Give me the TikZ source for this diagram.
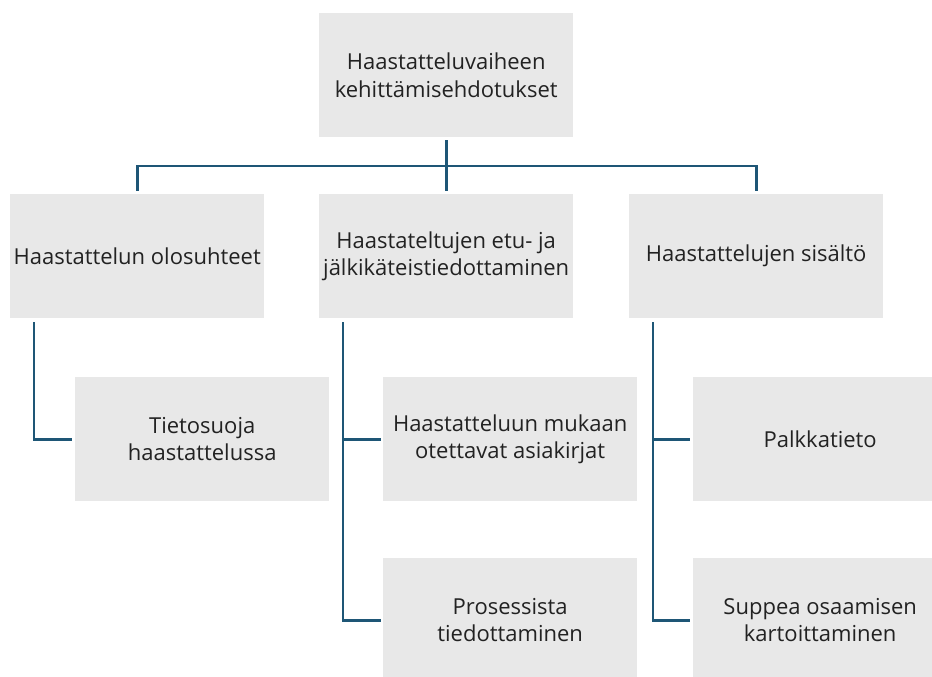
\documentclass[tikz,border=0pt]{standalone}
\usepackage{fontspec}
\setmainfont{Open Sans}
\definecolor{boxgray}{RGB}{232,232,232}
\definecolor{linkblue}{RGB}{30,86,118}
\definecolor{txt}{RGB}{34,34,34}
\begin{document}
\begin{tikzpicture}[x=1pt,y=-1pt,
  card/.style={fill=boxgray, draw=none, anchor=north west, inner sep=0pt,
    minimum width=254pt, minimum height=124pt, align=center, text=txt,
    font=\fontsize{22}{27.5}\selectfont},
  conn/.style={draw=linkblue, line width=2.6pt, line cap=rect, line join=miter}]
\path[use as bounding box, clip] (0,0) rectangle (932,677);
\fill[white] (0,0) rectangle (932,677);

% top level
\node[card] (top) at (319,13) {Haastatteluvaiheen\\kehittämisehdotukset};

% second level
\node[card] (b1) at (10,194) {Haastattelun olosuhteet};
\node[card] (b2) at (319,194) {Haastateltujen etu- ja\\jälkikäteistiedottaminen};
\node[card] (b3) at (629,194) {Haastattelujen sisältö};

% third level
\node[card] (c1) at (75,377) {Tietosuoja\\haastattelussa};
\node[card] (c2) at (383,377) {Haastatteluun mukaan\\otettavat asiakirjat};
\node[card] (c3) at (383,558) {Prosessista\\tiedottaminen};
\node[card] (c4) at (693,377) {Palkkatieto};
\node[card] (c5) at (693,558) {Suppea osaamisen\\kartoittaminen};

% bus from the top box to the second level
\coordinate (bus) at (446,166);
\draw[conn] ([yshift=-4pt]top.south) -- ([yshift=4pt]b2.north);
\draw[conn] ([yshift=4pt]b1.north) -- (b1.north |- bus) -- (b3.north |- bus) -- ([yshift=4pt]b3.north);

% spines hanging from the second level
\coordinate (s1) at ([xshift=24pt,yshift=-5pt]b1.south west);
\coordinate (s2) at ([xshift=24pt,yshift=-5pt]b2.south west);
\coordinate (s3) at ([xshift=24pt,yshift=-5pt]b3.south west);

% side branches to the third level
\draw[conn] (s1) |- ([xshift=-4pt]c1.west);
\draw[conn] (s2) |- ([xshift=-3pt]c3.west);
\draw[conn] (s2 |- c2.west) -- ([xshift=-3pt]c2.west);
\draw[conn] (s3) |- ([xshift=-4pt]c5.west);
\draw[conn] (s3 |- c4.west) -- ([xshift=-4pt]c4.west);
\end{tikzpicture}
\end{document}
